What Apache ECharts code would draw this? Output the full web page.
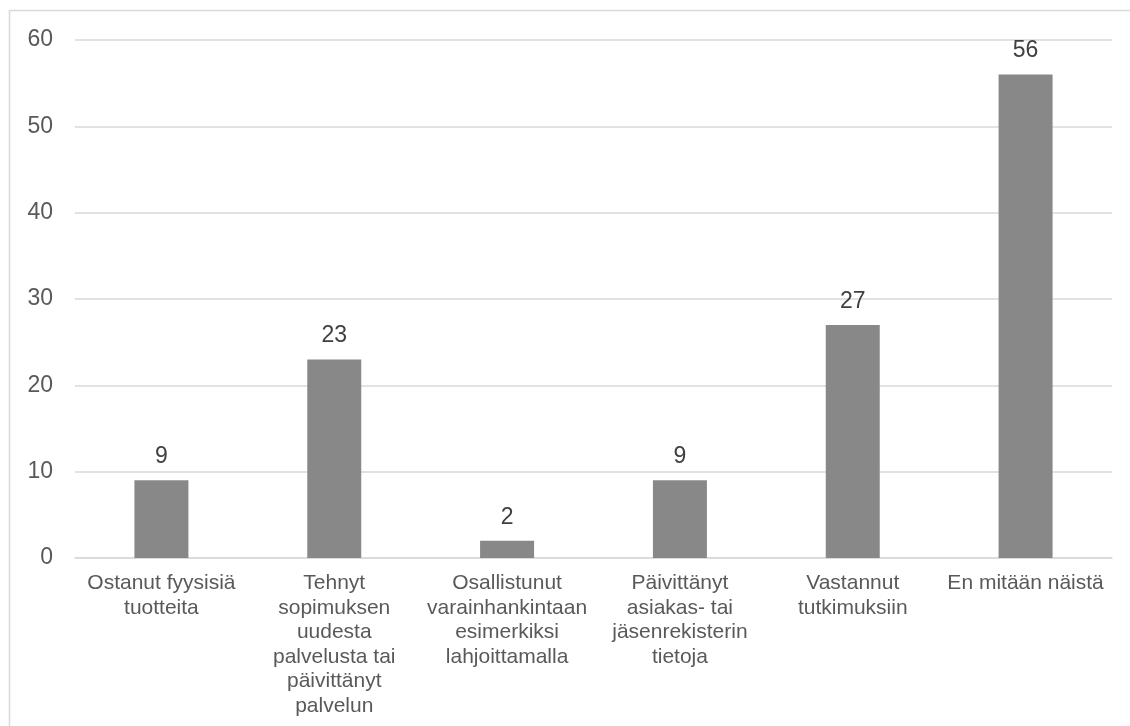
<!DOCTYPE html>
<html>
<head>
<meta charset="utf-8">
<script src="https://cdn.jsdelivr.net/npm/echarts@6/dist/echarts.min.js"></script>
<style>
  html, body { margin: 0; padding: 0; background: #ffffff; }
  #chart { width: 1130px; height: 726px; }
</style>
</head>
<body>
<div id="chart"></div>
<script>
// Survey answers: what respondents had done
const categories = [
  'Ostanut fyysisiä\ntuotteita',
  'Tehnyt\nsopimuksen\nuudesta\npalvelusta tai\npäivittänyt\npalvelun',
  'Osallistunut\nvarainhankintaan\nesimerkiksi\nlahjoittamalla',
  'Päivittänyt\nasiakas- tai\njäsenrekisterin\ntietoja',
  'Vastannut\ntutkimuksiin',
  'En mitään näistä'
];
const values = [9, 23, 2, 9, 27, 56];

const FONT = '"Liberation Sans", Arial, sans-serif';

const chart = echarts.init(document.getElementById('chart'), null, { renderer: 'canvas' });

chart.setOption({
  backgroundColor: '#ffffff',
  animation: false,
  graphic: [{
    type: 'rect',
    shape: { x: 9.5, y: 10.5, width: 1200, height: 800 },
    style: { fill: 'none', stroke: '#d9d9d9', lineWidth: 1.5 },
    silent: true,
    z: -1
  }],
  grid: { left: 75, right: 18, top: 40, bottom: 168, containLabel: false },
  xAxis: {
    type: 'category',
    data: categories,
    axisTick: { show: false },
    axisLine: { show: true, lineStyle: { color: '#d9d9d9', width: 1.5 } },
    axisLabel: {
      interval: 0,
      margin: 13,
      color: '#595959',
      fontFamily: FONT,
      fontSize: 21,
      lineHeight: 24.5,
      align: 'center',
      verticalAlign: 'top'
    }
  },
  yAxis: {
    type: 'value',
    min: 0,
    max: 60,
    interval: 10,
    axisLine: { show: false },
    axisTick: { show: false },
    splitLine: { lineStyle: { color: '#d9d9d9', width: 1.5 } },
    axisLabel: {
      margin: 22,
      color: '#595959',
      fontFamily: FONT,
      fontSize: 23
    }
  },
  series: [{
    type: 'bar',
    data: values,
    barWidth: 54,
    itemStyle: { color: '#888888' },
    label: {
      show: true,
      position: 'top',
      distance: 12,
      color: '#404040',
      fontFamily: FONT,
      fontSize: 23
    }
  }]
});
</script>
</body>
</html>
